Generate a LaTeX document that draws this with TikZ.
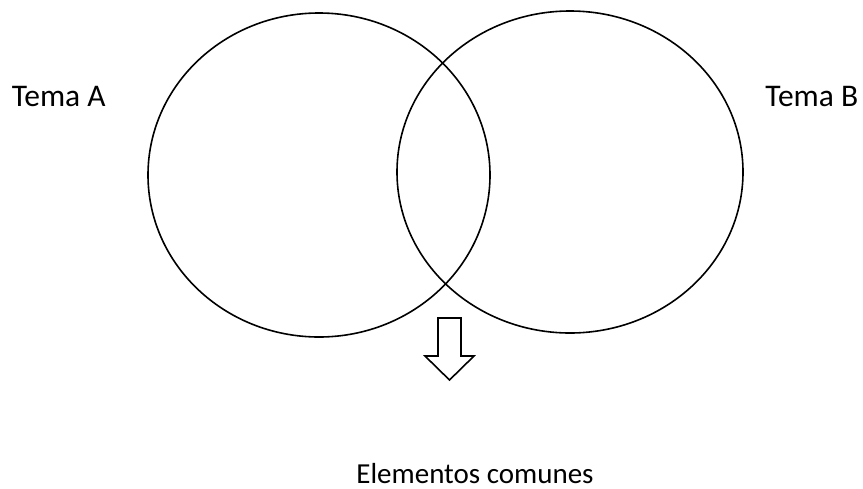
\documentclass[tikz,border=0pt]{standalone}
\usepackage{fontspec}
\setmainfont{Carlito}
\usetikzlibrary{shapes.geometric,positioning}

\begin{document}
\begin{tikzpicture}[x=1pt,y=-1pt,line width=1.6pt,
		conjunto/.style={draw,ellipse,inner sep=0pt},
		rotulo/.style={inner sep=0pt,font=\fontsize{31.5}{36}\selectfont}]
		\useasboundingbox (0,0) rectangle (863,488);
		\node[conjunto,minimum width=342pt,minimum height=324pt] (cjA) at (319,175) {};
		\node[conjunto,minimum width=346pt,minimum height=322pt] (cjB) at (570,172) {};
		\node[rotulo,anchor=base west] (temaA) at (11,106) {Tema A};
		\node[rotulo,anchor=base east] (temaB) at (859,106) {Tema B};
		\node[rotulo,anchor=base,font=\fontsize{29}{34}\selectfont] (comun) at (475,483) {Elementos comunes};
		% flecha hacia abajo
		\coordinate (flecha) at (449.5,318);
		\draw[line join=miter] (flecha) ++(-11.5,0) -- ++(23,0) -- ++(0,38) -- ++(13,0)
			-- ++(-24.5,24) -- ++(-24.5,-24) -- ++(13,0) -- cycle;
	\end{tikzpicture}
\end{document}
